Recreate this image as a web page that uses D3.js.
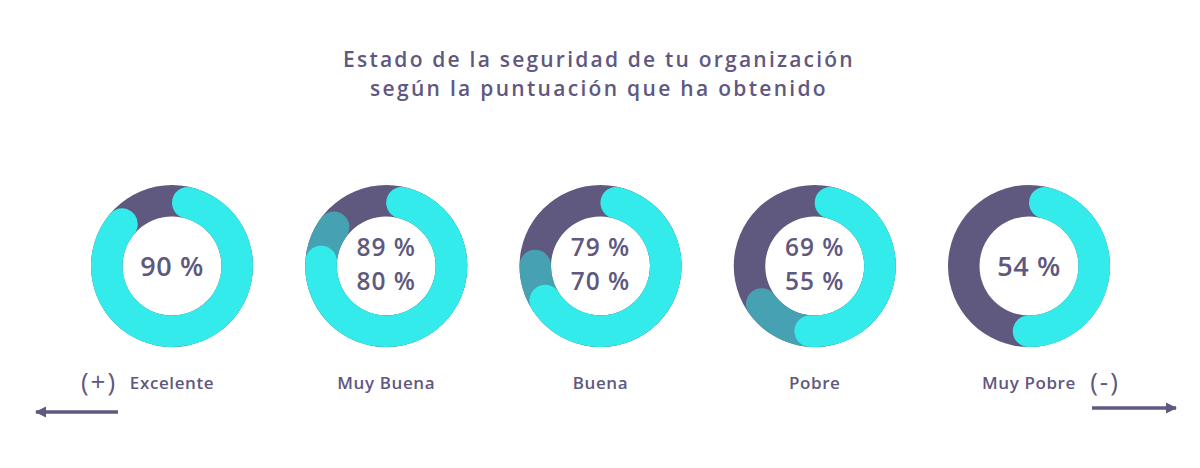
<!DOCTYPE html>
<html><head><meta charset="utf-8">
<script src="https://cdn.jsdelivr.net/npm/d3@7"></script>
<style>
html,body{margin:0;padding:0;background:#fff;}
svg{display:block;font-family:"Open Sans","Noto Sans",sans-serif;}
</style></head>
<body>
<script>
const titleLines = ["Estado de la seguridad de tu organización", "según la puntuación que ha obtenido"];
const categories = ["Excelente", "Muy Buena", "Buena", "Pobre", "Muy Pobre"];
const lowValues = [90, 80, 70, 55, 54];
const highValues = [null, 89, 79, 69, null];
const endMarks = ["(+)", "(-)"];

const W = 1200, H = 468;
const dark = "#5f587f", cyan = "#33ebeb", teal = "#46a2b2";

const svg = d3.select("body").append("svg").attr("width", W).attr("height", H);

const titleWidths = [512, 458];
svg.selectAll("text.title").data(titleLines).join("text")
  .attr("class", "title")
  .attr("x", 599).attr("y", (d, i) => 67 + i * 29)
  .attr("text-anchor", "middle")
  .attr("fill", dark).attr("font-size", 21).attr("font-weight", 600)
  .text(d => d)
  .each(function (d, i) {
    const w = this.getComputedTextLength();
    d3.select(this).attr("letter-spacing", ((titleWidths[i] - w) / d.length).toFixed(2));
  });

const x = d3.scalePoint().domain(categories).range([172, 1029]);
const ang = d3.scaleLinear().domain([0, 100]).range([0, 2 * Math.PI]);
const rIn = 49.5, rOut = 81, cy = 266;
const bg = d3.arc().innerRadius(rIn).outerRadius(rOut).startAngle(0).endAngle(2 * Math.PI);
const arc = d3.arc().innerRadius(rIn).outerRadius(rOut).cornerRadius((rOut - rIn) / 2).startAngle(0);

const g = svg.selectAll("g.donut").data(categories).join("g")
  .attr("class", "donut")
  .attr("transform", d => `translate(${x(d)},${cy})`);

g.append("path").attr("d", bg()).attr("fill", dark);
g.each(function (d, i) {
  const s = d3.select(this);
  if (highValues[i] != null) s.append("path").attr("d", arc.endAngle(ang(highValues[i]))()).attr("fill", teal);
  s.append("path").attr("d", arc.endAngle(ang(lowValues[i]))()).attr("fill", cyan);
  const lines = highValues[i] != null ? [highValues[i], lowValues[i]] : [lowValues[i]];
  s.selectAll("text").data(lines).join("text")
    .attr("text-anchor", "middle")
    .attr("y", (v, j) => lines.length === 1 ? 10 : -10 + j * 34)
    .attr("fill", dark).attr("font-size", lines.length === 1 ? 27 : 24.5).attr("font-weight", 600)
    .attr("letter-spacing", lines.length === 1 ? 0.6 : 1)
    .text(v => v + " %");
});

svg.selectAll("text.cat").data(categories).join("text")
  .attr("class", "cat")
  .attr("x", d => x(d)).attr("y", 389)
  .attr("text-anchor", "middle")
  .attr("fill", dark).attr("font-size", 17).attr("font-weight", 600)
  .attr("letter-spacing", 0.6)
  .text(d => d);

svg.selectAll("text.mark").data(endMarks).join("text")
  .attr("class", "mark")
  .attr("x", (d, i) => i === 0 ? 99 : 1105).attr("y", 391)
  .attr("text-anchor", "middle")
  .attr("fill", dark).attr("font-size", 26).attr("font-weight", 500)
  .attr("letter-spacing", 2)
  .text(d => d);

const defs = svg.append("defs");
defs.append("marker").attr("id", "ah").attr("viewBox", "0 0 10 10")
  .attr("refX", 9).attr("refY", 5).attr("markerWidth", 3.2).attr("markerHeight", 3.6)
  .attr("markerUnits", "strokeWidth").attr("orient", "auto")
  .append("path").attr("d", "M0,0L10,5L0,10Z").attr("fill", dark);

const arrows = [[118, 412, 36, 412], [1092, 408, 1176, 408]];
svg.selectAll("line.arr").data(arrows).join("line")
  .attr("class", "arr")
  .attr("x1", d => d[0]).attr("y1", d => d[1]).attr("x2", d => d[2]).attr("y2", d => d[3])
  .attr("stroke", dark).attr("stroke-width", 3.5).attr("marker-end", "url(#ah)");
</script>
</body></html>
